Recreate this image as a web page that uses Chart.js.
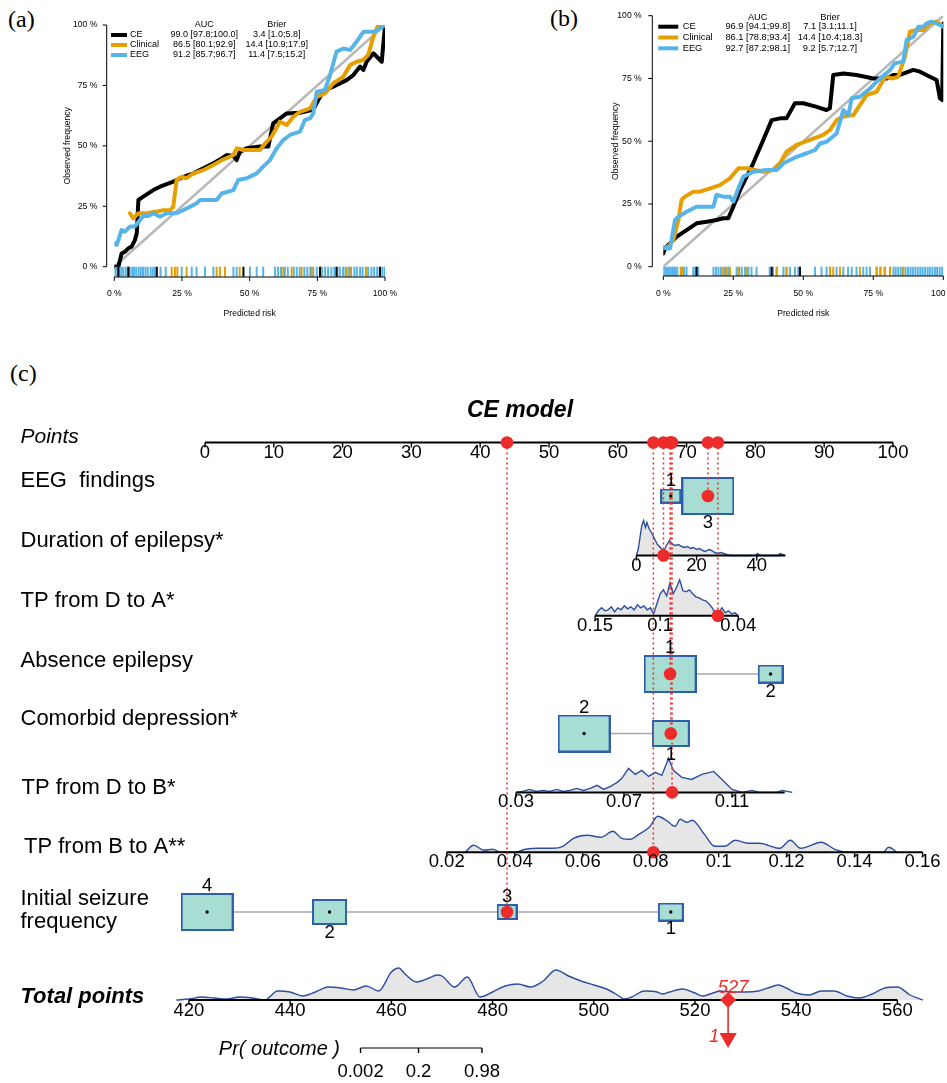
<!DOCTYPE html>
<html>
<head>
<meta charset="utf-8">
<title>Calibration curves and CE nomogram</title>
<script src="https://cdn.jsdelivr.net/npm/chart.js@4.4.1/dist/chart.umd.min.js"></script>
<style>
  html, body { margin: 0; padding: 0; background: #fff; }
  body { position: relative; width: 947px; height: 1083px; overflow: hidden; }
  canvas { position: absolute; }
  .tag { position: absolute; font: 24px "Liberation Serif", "Times New Roman", serif; line-height: 1; color: #000; }
</style>
</head>
<body>
<div class="tag" style="left:8px;top:7px">(a)</div>
<div class="tag" style="left:550px;top:6px">(b)</div>
<div class="tag" style="left:10px;top:361px">(c)</div>
<canvas id="calA" width="400" height="330" style="left:0;top:0"></canvas>
<canvas id="calB" width="480" height="330" style="left:470px;top:0"></canvas>
<canvas id="nomo" width="947" height="693" style="left:0;top:390px"></canvas>
<script>
const FONT = '"Liberation Sans", Arial, Helvetica, sans-serif';
Chart.defaults.font.family = FONT;

// ---------- calibration data: [predicted %, observed %] ----------
const modelNames = ['CE', 'Clinical', 'EEG'];
const pctTicks = [0, 25, 50, 75, 100];

// (a)
const calA_CE = [[0,0],[1.5,0],[2.7,5.5],[3.9,6.2],[5.2,7.6],[6.4,8.3],[7.6,11],[8.3,13.8],[8.9,27.6],[10.7,29],[14.4,31.7],[16.9,33.1],[21.8,35.2],[25.5,37.2],[29.2,38.6],[32.9,40.7],[36.6,42.8],[39.7,44.8],[41.5,46.2],[44,45.8],[45.2,44.1],[46.4,47.6],[48.9,49],[53.8,49.7],[56.9,49.7],[58.7,59.3],[61.2,61.4],[63.7,63.4],[68.6,63.7],[72.9,64.8],[74.1,66.2],[76,70.3],[77.8,73.1],[80.9,74.5],[85.8,77.2],[88.3,79.3],[90.8,82.8],[92,81.4],[93.2,84.8],[95.7,88.3],[98.8,84.8],[99.4,92.4],[100,99.3]];
const calA_Clinical = [[5.8,22.1],[7,20],[8.9,22.1],[12,22.1],[15.6,22.8],[18.1,23.4],[20.6,23.4],[21.8,24.8],[23,35.9],[24.9,37.2],[26.7,36.6],[29.2,38.6],[32.9,40],[36.6,42.1],[39.7,44.1],[42.7,45.5],[44,46.2],[45.2,49],[47.7,48.3],[53.8,48.3],[55.7,51],[58.1,53.8],[61.2,60],[63.7,58.6],[66.1,62],[68.6,64.1],[72.3,65.5],[74.8,70.3],[77.8,71.7],[80.9,75.9],[84.6,78.6],[87.1,83.4],[89.5,84.8],[92,85.5],[93.8,87.6],[95.7,95.2],[97.5,100],[99.4,100]];
const calA_EEG = [[0,9.7],[0.9,9],[2.7,15.2],[3.9,14.5],[5.8,16.6],[7.6,16.6],[9.5,19.3],[10.7,21],[12.6,21],[14.4,22.1],[16.9,20.7],[19.3,22.1],[23,22.1],[26.7,24.1],[30.4,26.2],[31.7,27.6],[37.8,27.6],[39.7,30.3],[44,31.7],[45.8,35.9],[48.9,36.6],[52.6,38.6],[55,41.4],[57.5,44.1],[60,49],[62.4,52.4],[64.9,54.5],[68.6,55.9],[70.4,60.7],[72.3,61.4],[73.5,63.4],[74.8,72.4],[77.8,73.1],[79.7,79.3],[82.1,89],[84.6,90.3],[87.1,89.7],[89.5,93.1],[92,97.2],[96.3,97.2],[98.2,98.6],[100,100]];
const rugA_CE = [1.5,5.2,15.7,47.7,76.0,82.1,98.2];
const rugA_Clinical = [21.2,22.4,23.3,26.7,37.8,39.0,40.9,46.3,62.4,65.5,69.2,72.9,76.4,85.8,87.0,93.2];
const rugA_EEG = [0.4,1.1,1.9,2.6,3.3,4.2,5.0,5.7,6.6,7.3,8.1,9.0,9.8,10.6,11.5,12.3,13.4,14.2,15.0,17.1,19.0,24.9,28.6,30.4,33.5,36.6,44.0,45.2,50.1,52.6,55.0,59.4,60.5,61.6,63.0,64.1,66.3,67.4,68.5,70.2,71.3,72.4,73.5,74.8,76.8,77.9,79.0,80.2,81.3,82.4,83.3,84.5,85.4,86.6,87.5,88.7,89.6,90.8,91.7,92.9,93.8,95.0,96.0,97.1,98.0,99.1,100];
const aucA = [[99.0, 97.8, 100.0], [86.5, 80.1, 92.9], [91.2, 85.7, 96.7]];
const brierA = [[3.4, 1.0, 5.8], [14.4, 10.9, 17.9], [11.4, 7.5, 15.2]];

// (b)
const calB_CE = [[0,5.3],[0.6,7.3],[2.4,9.3],[4.8,12],[8.3,14.6],[11.9,17.3],[15.5,17.9],[19,18.6],[21.4,19.3],[23.2,19.3],[25,23.9],[27.4,30.5],[29.8,35.9],[32.1,41.2],[35.7,50.5],[38.7,58.4],[41.7,59.1],[44,59.1],[47,65.1],[50,65.1],[54.8,63.7],[58.3,62.4],[59.5,63.1],[60.7,76.4],[64.3,77],[69,76.4],[75,75],[79.8,75],[82.1,76.4],[84.5,76.4],[89.3,78.4],[91.7,77.7],[95.2,75.7],[97.6,74.4],[98.8,67.1],[99.6,66.4],[100,96.9]];
const calB_Clinical = [[0,7.3],[1.8,8],[3.6,10.6],[5.4,18.6],[6.5,26.6],[7.7,27.9],[10.7,29.9],[13.1,29.9],[16.7,31.2],[20.2,32.5],[23.8,35.2],[26.8,39.2],[29.8,39.2],[32.7,38.5],[35.7,37.8],[39.3,38.5],[41.7,41.2],[44,45.8],[47.6,48.5],[52.4,50.5],[57.1,52.5],[59.5,54.4],[61.9,58.4],[64.3,59.8],[67.9,60.4],[69,62.4],[72.6,68.4],[76.2,69.7],[79.2,75.7],[82.1,75],[83.9,75.7],[86.3,83.7],[88.1,93.6],[90.5,94.3],[92.9,94.3],[95.2,96.9],[97.6,97.6],[100,95.6]];
const calB_EEG = [[0,8],[1.2,7.3],[2.4,7.3],[4.2,18.6],[5.4,19.9],[8.3,21.9],[11.9,23.9],[15.5,23.9],[17.9,23.9],[19,28.6],[21.4,27.9],[23.8,27.9],[25,25.9],[26.8,31.2],[28.6,35.9],[32.1,37.8],[36.9,38.5],[40.5,38.5],[42.9,41.2],[47.6,43.8],[51.2,45.2],[54.2,46.5],[56,49.1],[58.3,49.8],[61.9,53.1],[64.3,62.4],[66.1,60.4],[67.3,67.1],[70.2,67.7],[73.8,71],[77.4,75],[81,78.4],[82.7,81],[85.7,81.7],[86.9,90.3],[89.3,91.6],[91.1,95.6],[92.9,95.6],[94,96.9],[95.8,97.6],[97.6,96.9],[100,95.6]];
const rugB_CE = [11.9,38.7,48.8];
const rugB_Clinical = [6.2,6.9,21.4,22.6,23.8,26.8,29.8,40.5,44.0,59.5,60.7,63.1,70.2,76.2,77.5,79.2,81.0,85.7];
const rugB_EEG = [0.2,0.8,1.4,2.0,2.6,3.2,3.8,4.4,5.0,6.5,7.4,8.3,10.7,11.4,12.5,17.9,18.8,19.7,20.6,22.0,23.2,26.2,27.1,28.0,29.2,30.4,31.5,33.3,38.0,39.2,40.5,42.9,44.0,45.2,47.0,48.2,54.2,56.5,58.3,59.6,61.9,64.3,66.0,67.3,69.0,71.4,72.6,73.8,76.2,77.6,79.0,81.0,82.2,83.0,83.9,84.8,85.6,86.5,87.4,88.3,89.1,90.0,90.9,91.8,92.6,93.5,94.4,95.2,96.1,97.0,97.8,98.7,99.6];
const aucB = [[96.9, 94.1, 99.8], [86.1, 78.8, 93.4], [92.7, 87.2, 98.1]];
const brierB = [[7.1, 3.1, 11.1], [14.4, 10.4, 18.3], [9.2, 5.7, 12.7]];

// ---------- nomogram data ----------
const pointsTicks = [0, 10, 20, 30, 40, 50, 60, 70, 80, 90, 100];

const eegLevels = ['1', '3'];
const eegPoints = [67.7, 73.1];
const eegShare = [0.12, 0.88];

const absenceLevels = ['1', '2'];
const absencePoints = [67.6, 82.2];
const absenceShare = [0.82, 0.18];

const depressionLevels = ['2', '1'];
const depressionPoints = [55.1, 67.7];
const depressionShare = [0.67, 0.33];

const seizureLevels = ['4', '2', '3', '1'];
const seizurePoints = [0.3, 18.1, 43.9, 67.7];
const seizureShare = [0.56, 0.24, 0.08, 0.12];

// continuous predictors: [value, points] anchors, axis extent, ticks, density [value, height]
const durationAnchors = [[0, 62.7], [40, 80.2]];
const durationRange = [0, 49.5];
const durationTicks = [0, 20, 40];
const durationDensity = [[0,0],[0.6,6],[1.2,18],[1.8,30],[2.4,35],[3,28],[3.5,33],[4.2,27],[5,23],[6,17],[7,11],[8,8],[9,4],[10,10],[11,15],[12,11],[13,10],[14,11],[15,9],[16,8],[17,9],[18,7],[19,8],[20,6],[21,7],[22,5],[23,4],[24,6],[25,5],[26,3],[27,2],[28,3],[29,2],[30,1],[31,0],[39.5,0],[40.3,2],[41,0],[47,0],[47.8,2],[48.5,1],[49.3,0]];

const tpDAAnchors = [[0.15, 56.7], [0.04, 77.5]];
const tpDARange = [0.15, 0.04];
const tpDATicks = [0.15, 0.1, 0.04];
const tpDADensity = [[0.15,0],[0.1475,5],[0.145,8],[0.1425,5],[0.14,6],[0.1375,9],[0.135,4],[0.1325,8],[0.13,6],[0.1275,10],[0.125,7],[0.1225,9],[0.12,6],[0.1175,11],[0.115,8],[0.1125,10],[0.11,6],[0.1075,8],[0.105,2],[0.1025,12],[0.1,22],[0.0975,26],[0.095,20],[0.0925,33],[0.09,22],[0.0875,28],[0.085,36],[0.0825,25],[0.08,24],[0.0775,26],[0.075,22],[0.0725,19],[0.07,18],[0.0675,16],[0.065,15],[0.0625,12],[0.06,8],[0.0575,3],[0.055,3],[0.0525,8],[0.05,3],[0.0475,5],[0.045,2],[0.0425,3],[0.04,0]];

const tpDBAnchors = [[0.03, 45.2], [0.11, 76.6]];
const tpDBRange = [0.03, 0.1295];
const tpDBTicks = [0.03, 0.07, 0.11];
const tpDBDensity = [[0.03,0],[0.0325,1],[0.035,3],[0.0375,1],[0.04,2],[0.0425,1],[0.045,3],[0.0475,1],[0.05,2],[0.0525,4],[0.055,2],[0.0575,4],[0.06,7],[0.0625,3],[0.065,6],[0.0675,10],[0.0692,14],[0.0717,24],[0.0742,18],[0.0766,22],[0.0791,16],[0.0816,20],[0.084,17],[0.0865,34],[0.0883,22],[0.0914,15],[0.0951,13],[0.0988,18],[0.1032,21],[0.1063,13],[0.11,3],[0.1137,0],[0.1174,2],[0.12,0],[0.1265,0],[0.1286,2],[0.1323,0]];

const tpBAAnchors = [[0.02, 35.13], [0.16, 104.3]];
const tpBARange = [0.02, 0.16];
const tpBATicks = [0.02, 0.04, 0.06, 0.08, 0.1, 0.12, 0.14, 0.16];
const tpBADensity = [[0.0254,0],[0.0279,7],[0.031,2],[0.0335,3],[0.036,0],[0.0401,0],[0.0431,3],[0.0472,4],[0.0512,4],[0.0542,6],[0.0573,14],[0.0613,17],[0.0654,15],[0.0689,21],[0.0715,14],[0.074,13],[0.0765,18],[0.0796,25],[0.0821,36],[0.0846,32],[0.0872,26],[0.0887,33],[0.0907,30],[0.0922,32],[0.0958,18],[0.0988,6],[0.1018,6],[0.1049,12],[0.1089,9],[0.112,9],[0.118,4],[0.1211,12],[0.1241,4],[0.1302,10],[0.1342,3],[0.1383,0],[0.1484,0],[0.15,5],[0.1525,0]];

const totalAnchors = [[420, -2.33], [560, 100.64]];
const totalRange = [420, 560];
const totalTicks = [420, 440, 460, 480, 500, 520, 540, 560];
const totalDensity = [[417.5,0],[420,1],[422.5,3],[425,2],[427.5,1],[430,3],[432.5,2],[435,0],[437.5,9],[440,8],[442.5,4],[445,8],[447.5,13],[450,12],[452.5,10],[455,14],[457.5,9],[460,28],[461.5,32],[462.5,27],[465,18],[467.5,22],[469,25],[470,24],[472.5,13],[475,23],[477.5,3],[480,8],[482.5,14],[485,16],[487.5,13],[490,19],[492.5,30],[495,24],[497.5,19],[500,15],[502.5,11],[505,4],[506,1],[507.5,3],[510,9],[512.5,8],[513.5,6],[515,8],[517.5,11],[520,7],[521.5,4],[523,6],[525,9],[527.5,8],[530,8],[532.5,9],[535,13],[536.5,15],[538,12],[540,7],[542.5,5],[545,9],[547.5,9],[550,4],[552.5,2],[555,6],[557.5,12],[560,13],[562.5,5],[565,0]];

const prTicks = [0.002, 0.2, 0.98];
const prMidTotal = 468.66;  // total points where Pr = 0.5
const prSlope = 0.421;      // logit change per total point

const patient = { eeg: '3', duration: 9, tpDA: 0.0556, absence: '1', depression: '1', tpDB: 0.0878, tpBA: 0.0808, seizure: '3' };

// ---------- styles ----------
const modelColors = ['#000000', '#E69F00', '#56B4E9'];
const RED = '#ee2b2b';
const DENS_LINE = '#2c4fa0';
const DENS_FILL = '#e6e6e6';
const BOX_FILL = '#a7ddd3';
const BOX_EDGE = '#2e5eae';
const BOX_W = 51, BOX_H = 36;

const fmtCI = a => `${a[0].toFixed(1)} [${a[1].toFixed(1)};${a[2].toFixed(1)}]`;

function calibrationDecor(auc, brier, lay) {
  return {
    id: 'calDecor',
    afterDatasetsDraw(chart) {
      const { ctx, chartArea, scales: { x, y } } = chart;
      const X = v => x.getPixelForValue(v), Y = v => y.getPixelForValue(v);
      const seg = (x1, y1, x2, y2) => { ctx.beginPath(); ctx.moveTo(x1, y1); ctx.lineTo(x2, y2); ctx.stroke(); };
      ctx.save();
      ctx.strokeStyle = '#000'; ctx.fillStyle = '#000'; ctx.lineWidth = 1;
      ctx.font = `${lay.tickFont}px ${FONT}`;
      const ax = X(0) - lay.axisGap, ay = chartArea.bottom;
      seg(ax, Y(0), ax, Y(100));
      seg(X(0), ay, X(100), ay);
      ctx.textAlign = 'right'; ctx.textBaseline = 'middle';
      pctTicks.forEach(v => { seg(ax - 4, Y(v), ax, Y(v)); ctx.fillText(`${v} %`, ax - lay.yLabGap, Y(v)); });
      ctx.textAlign = 'center';
      pctTicks.forEach(v => { seg(X(v), ay, X(v), ay + 4); ctx.fillText(`${v} %`, X(v), ay + lay.xLabGap); });
      ctx.fillText('Predicted risk', X(50), ay + lay.xTitleGap);
      ctx.save();
      ctx.translate(ax - lay.yTitleGap, Y(50)); ctx.rotate(-Math.PI / 2);
      ctx.fillText('Observed frequency', 0, 0);
      ctx.restore();
      // legend table
      ctx.font = `${lay.legFont}px ${FONT}`;
      ctx.fillText('AUC', lay.aucX, lay.headY);
      ctx.fillText('Brier', lay.brierX, lay.headY);
      modelNames.forEach((name, i) => {
        const ly = lay.rowY0 + i * lay.rowStep;
        ctx.strokeStyle = modelColors[i]; ctx.lineWidth = 4;
        seg(lay.lineX[0], ly, lay.lineX[1], ly);
        ctx.textAlign = 'left'; ctx.fillText(name, lay.nameX, ly);
        ctx.textAlign = 'center';
        ctx.fillText(fmtCI(auc[i]), lay.aucX, ly);
        ctx.fillText(fmtCI(brier[i]), lay.brierX, ly);
      });
      ctx.restore();
    }
  };
}

function calibrationChart(id, curves, rugs, auc, brier, lay) {
  const datasets = [{
    data: [{ x: 0, y: 0 }, { x: 100, y: 100 }],
    borderColor: '#b8b8b8', borderWidth: 2.5, pointRadius: 0, order: 10
  }];
  curves.forEach((c, i) => datasets.push({
    data: c.map(([x, y]) => ({ x, y })),
    borderColor: modelColors[i], borderWidth: 4, borderJoinStyle: 'round', borderCapStyle: 'round',
    pointRadius: 0, order: 7 - i
  }));
  rugs.forEach((r, i) => datasets.push({
    data: r.map(v => ({ x: v, y: lay.rugY })),
    showLine: false, pointStyle: 'line', rotation: 90, pointRadius: lay.rugHalf,
    pointBorderWidth: 2, pointBorderColor: modelColors[i], order: 1 + i
  }));
  return new Chart(document.getElementById(id), {
    type: 'line',
    data: { datasets },
    options: {
      responsive: false, animation: false, events: [],
      layout: { padding: lay.pad, autoPadding: false },
      scales: {
        x: { type: 'linear', display: false, min: 0, max: 100 },
        y: { type: 'linear', display: false, min: lay.yMin, max: 100 }
      },
      plugins: { legend: { display: false }, tooltip: { enabled: false }, colors: { enabled: false } }
    },
    plugins: [calibrationDecor(auc, brier, lay)]
  });
}

calibrationChart('calA', [calA_CE, calA_Clinical, calA_EEG], [rugA_CE, rugA_Clinical, rugA_EEG], aucA, brierA, {
  pad: { left: 114.3, right: 15, top: 25, bottom: 53 }, yMin: -4.26,
  rugY: -2.07, rugHalf: 5, axisGap: 7.6, yLabGap: 9.4, xLabGap: 16.3, xTitleGap: 36.3, yTitleGap: 38.7,
  tickFont: 8.6, legFont: 9, headY: 25, rowY0: 35, rowStep: 10, lineX: [111, 127], nameX: 130, aucX: 204.3, brierX: 276.7
});
calibrationChart('calB', [calB_CE, calB_Clinical, calB_EEG], [rugB_CE, rugB_Clinical, rugB_EEG], aucB, brierB, {
  pad: { left: 193.3, right: 6.7, top: 15.7, bottom: 54 }, yMin: -3.7,
  rugY: -1.85, rugHalf: 4.65, axisGap: 11, yLabGap: 10.6, xLabGap: 17.3, xTitleGap: 37.3, yTitleGap: 36.3,
  tickFont: 8.6, legFont: 9.3, headY: 17.3, rowY0: 26.7, rowStep: 10.8, lineX: [188.3, 208.3], nameX: 212.7, aucX: 287.7, brierX: 360
});

// ---------- nomogram ----------
const NOMO_TOP = 390, NOMO_H = 693;        // canvas placement on the page
const PTS_X0 = 205, PTS_PX = 6.88;         // page x of 0 points, px per point
const rowY = { points: 442.5, eeg: 496, duration: 555.5, tpDA: 615.8, absence: 674, depression: 733.5, tpDB: 792.4, tpBA: 852.3, seizure: 912, total: 1000, pr: 1048 };
const labelBase = { eeg: [487.3], duration: [547.3], tpDA: [606.7], absence: [666.7], depression: [725], tpDB: [794], tpBA: [852.7], seizure: [905, 928.3] };
const labelX = { tpBA: 24, tpDB: 21.5 };
const TICK_DY = 10;

const rows = [
  { key: 'eeg', label: ['EEG  findings'], kind: 'cat', levels: eegLevels, points: eegPoints, share: eegShare },
  { key: 'duration', label: ['Duration of epilepsy*'], kind: 'num', anchors: durationAnchors, range: durationRange, ticks: durationTicks, density: durationDensity, smooth: false },
  { key: 'tpDA', label: ['TP from D to A*'], kind: 'num', anchors: tpDAAnchors, range: tpDARange, ticks: tpDATicks, density: tpDADensity, smooth: false },
  { key: 'absence', label: ['Absence epilepsy'], kind: 'cat', levels: absenceLevels, points: absencePoints, share: absenceShare },
  { key: 'depression', label: ['Comorbid depression*'], kind: 'cat', levels: depressionLevels, points: depressionPoints, share: depressionShare },
  { key: 'tpDB', label: ['TP from D to B*'], kind: 'num', anchors: tpDBAnchors, range: tpDBRange, ticks: tpDBTicks, density: tpDBDensity, smooth: false },
  { key: 'tpBA', label: ['TP from B to A**'], kind: 'num', anchors: tpBAAnchors, range: tpBARange, ticks: tpBATicks, density: tpBADensity, smooth: true },
  { key: 'seizure', label: ['Initial seizure', 'frequency'], kind: 'cat', levels: seizureLevels, points: seizurePoints, share: seizureShare }
];

const lin = ([[v0, p0], [v1, p1]]) => v => p0 + (v - v0) * (p1 - p0) / (v1 - v0);
const toTotalPts = lin(totalAnchors);
const prToTotal = p => prMidTotal + Math.log(p / (1 - p)) / prSlope;
const fmtNum = v => String(+v.toFixed(4));

function boxImage(frac) {
  const w = Math.round(BOX_W * Math.sqrt(frac)), h = Math.round(BOX_H * Math.sqrt(frac));
  const c = document.createElement('canvas');
  c.width = w + 2; c.height = h + 2;
  const g = c.getContext('2d');
  g.fillStyle = BOX_FILL; g.fillRect(1, 1, w, h);
  g.strokeStyle = BOX_EDGE; g.lineWidth = 2; g.strokeRect(1, 1, w, h);
  return c;
}

const nds = [];
function axisSet(from, to, y0, ticks, width) {
  nds.push({ data: [{ x: from, y: y0 }, { x: to, y: y0 }], borderColor: '#000', borderWidth: width, pointRadius: 0, order: 50 });
  nds.push({ data: ticks.map(p => ({ x: p, y: y0 + 2.5 })), showLine: false, pointStyle: 'line', rotation: 90,
    pointRadius: 2.5, pointBorderColor: '#000', pointBorderWidth: 1.4, order: 49 });
}
function densitySet(pairs, map, y0, smooth) {
  nds.push({ data: pairs.map(([v, d]) => ({ x: map(v), y: y0 - d })), fill: { value: y0 },
    backgroundColor: DENS_FILL, borderColor: DENS_LINE, borderWidth: 1.4, pointRadius: 0,
    tension: smooth ? 0.4 : 0, cubicInterpolationMode: smooth ? 'monotone' : 'default', order: 60 });
}

axisSet(0, 100, rowY.points, pointsTicks, 2);

const patientPts = [];
rows.forEach(r => {
  const y0 = rowY[r.key];
  if (r.kind === 'num') {
    const f = lin(r.anchors);
    densitySet(r.density, f, y0, r.smooth);
    axisSet(f(r.range[0]), f(r.range[1]), y0, r.ticks.map(f), 2);
    patientPts.push(f(patient[r.key]));
  } else {
    const maxShare = Math.max(...r.share);
    nds.push({ data: [{ x: Math.min(...r.points), y: y0 }, { x: Math.max(...r.points), y: y0 }],
      borderColor: '#a8a8a8', borderWidth: 1.5, pointRadius: 0, order: 40 });
    nds.push({ data: r.points.map(p => ({ x: p, y: y0 })), showLine: false,
      pointStyle: r.share.map(s => boxImage(s / maxShare)), pointRadius: 5, order: 30 });
    nds.push({ data: r.points.map(p => ({ x: p, y: y0 })), showLine: false, pointStyle: 'circle',
      pointRadius: 1.7, pointBackgroundColor: '#000', pointBorderWidth: 0, order: 29 });
    patientPts.push(r.points[r.levels.indexOf(patient[r.key])]);
  }
});

// total points row and probability scale
densitySet(totalDensity, toTotalPts, rowY.total, true);
axisSet(toTotalPts(totalRange[0]), toTotalPts(totalRange[1]), rowY.total, totalTicks.map(toTotalPts), 2.2);
axisSet(toTotalPts(prToTotal(prTicks[0])), toTotalPts(prToTotal(prTicks[prTicks.length - 1])), rowY.pr,
  prTicks.map(p => toTotalPts(prToTotal(p))), 1.2);

// patient: guide lines, dots, total marker
const totalScore = patientPts.reduce((a, b) => a + b, 0);
const totalX = toTotalPts(totalScore);
const prPatient = 1 / (1 + Math.exp(-prSlope * (totalScore - prMidTotal)));
rows.forEach((r, i) => nds.push({
  data: [{ x: patientPts[i], y: rowY.points }, { x: patientPts[i], y: rowY[r.key] }],
  borderColor: RED, borderWidth: 1.5, borderDash: [2, 3], pointRadius: 0, order: 20
}));
nds.push({ data: rows.map((r, i) => ({ x: patientPts[i], y: rowY[r.key] }))
    .concat(patientPts.map(p => ({ x: p, y: rowY.points }))),
  showLine: false, pointStyle: 'circle', pointRadius: 6.3, pointBackgroundColor: RED, pointBorderWidth: 0, order: 10 });
nds.push({ data: [{ x: totalX, y: rowY.total }, { x: totalX, y: rowY.total + 34 }], borderColor: RED, borderWidth: 1.6, pointRadius: 0, order: 6 });
nds.push({ data: [{ x: totalX, y: rowY.total }], showLine: false, pointStyle: 'rectRot', pointRadius: 8,
  pointBackgroundColor: RED, pointBorderWidth: 0, order: 5 });
nds.push({ data: [{ x: totalX, y: rowY.total + 38 }], showLine: false, pointStyle: 'triangle', rotation: 180, pointRadius: 10,
  pointBackgroundColor: RED, pointBorderWidth: 0, order: 5 });

const nomoText = {
  id: 'nomoText',
  afterDatasetsDraw(chart) {
    const { ctx, scales: { x, y } } = chart;
    const X = v => x.getPixelForValue(v), Y = v => y.getPixelForValue(v);
    ctx.save();
    ctx.fillStyle = '#000';
    ctx.textAlign = 'center'; ctx.textBaseline = 'middle';
    ctx.font = `italic bold 23px ${FONT}`;
    ctx.fillText('CE model', 520, Y(411));

    ctx.textAlign = 'left'; ctx.textBaseline = 'alphabetic';
    ctx.font = `italic 21px ${FONT}`;
    ctx.fillText('Points', 20.5, Y(442.7));
    ctx.font = `22px ${FONT}`;
    rows.forEach(r => r.label.forEach((t, i) => ctx.fillText(t, labelX[r.key] || 20.5, Y(labelBase[r.key][i]))));
    ctx.font = `italic bold 22px ${FONT}`;
    ctx.fillText('Total points', 20.5, Y(1003));

    ctx.font = `18.5px ${FONT}`; ctx.textAlign = 'center'; ctx.textBaseline = 'middle';
    pointsTicks.forEach(v => ctx.fillText(String(v), X(v), Y(rowY.points + TICK_DY)));
    rows.forEach(r => {
      const y0 = rowY[r.key];
      if (r.kind === 'num') {
        const f = lin(r.anchors);
        r.ticks.forEach(v => ctx.fillText(fmtNum(v), X(f(v)), Y(y0 + TICK_DY)));
      } else {
        const maxShare = Math.max(...r.share);
        const idx = r.points.map((p, i) => i).sort((a, b) => r.points[a] - r.points[b]);
        idx.forEach((i, k) => {
          const h = BOX_H * Math.sqrt(r.share[i] / maxShare);
          const dy = k % 2 === 0 ? -(h / 2 + 8) : h / 2 + 9;
          ctx.fillText(r.levels[i], X(r.points[i]), Y(y0 + dy));
        });
      }
    });
    totalTicks.forEach(v => ctx.fillText(String(v), X(toTotalPts(v)), Y(rowY.total + TICK_DY + 1)));
    prTicks.forEach(p => ctx.fillText(String(p), X(toTotalPts(prToTotal(p))), Y(rowY.pr + 23.5)));

    ctx.font = `italic 20px ${FONT}`; ctx.textAlign = 'right';
    ctx.fillText('Pr( outcome )', 340, Y(rowY.pr + 1));

    ctx.fillStyle = RED; ctx.font = `italic 18.5px ${FONT}`; ctx.textAlign = 'center';
    ctx.fillText(String(Math.round(totalScore)), X(totalX) + 5, Y(rowY.total - 12));
    ctx.fillText(String(+prPatient.toPrecision(2)), X(totalX) - 14, Y(rowY.total + 37));
    ctx.restore();
  }
};

new Chart(document.getElementById('nomo'), {
  type: 'line',
  data: { datasets: nds },
  options: {
    responsive: false, animation: false, events: [],
    layout: { padding: 0, autoPadding: false },
    scales: {
      x: { type: 'linear', display: false, min: -PTS_X0 / PTS_PX, max: (947 - PTS_X0) / PTS_PX },
      y: { type: 'linear', display: false, reverse: true, min: NOMO_TOP, max: NOMO_TOP + NOMO_H }
    },
    plugins: { legend: { display: false }, tooltip: { enabled: false }, colors: { enabled: false } }
  },
  plugins: [nomoText]
});
</script>
</body>
</html>
